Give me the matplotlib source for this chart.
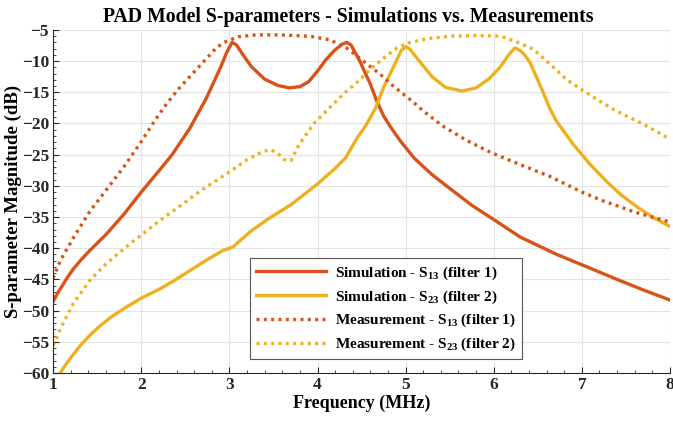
import matplotlib
matplotlib.use("Agg")
import matplotlib.pyplot as plt
from matplotlib.ticker import MultipleLocator

plt.rcParams['font.family'] = ['Liberation Serif', 'DejaVu Serif']
plt.rcParams['font.weight'] = 'bold'
plt.rcParams['mathtext.fontset'] = 'custom'
plt.rcParams['mathtext.rm'] = 'Liberation Serif:bold'
plt.rcParams['mathtext.it'] = 'Liberation Serif:bold'
plt.rcParams['mathtext.bf'] = 'Liberation Serif:bold'

# Simulation S13 (filter 1)
sim13_x = [1.0, 1.05, 1.1, 1.17, 1.23, 1.32, 1.42, 1.6, 1.8, 2.0, 2.2, 2.35, 2.55, 2.74, 2.9, 2.97,
           3.03, 3.08, 3.15, 3.25, 3.4, 3.55, 3.68, 3.8, 3.9, 4.0, 4.1, 4.2, 4.28, 4.33, 4.38, 4.48,
           4.6, 4.67, 4.75, 4.85, 4.94, 5.1, 5.3, 5.5, 5.75, 6.0, 6.3, 6.7, 7.06, 7.4, 7.7, 8.0]
sim13_y = [-48.5, -47.2, -46.1, -44.5, -43.3, -41.8, -40.3, -37.8, -34.6, -31.0, -27.6, -25.0, -20.8,
           -15.9, -11.0, -8.6, -7.0, -7.4, -8.9, -10.9, -12.9, -13.9, -14.3, -14.1, -13.3, -11.6,
           -9.7, -8.2, -7.3, -7.0, -7.4, -10.0, -13.7, -16.3, -18.8, -21.0, -22.8, -25.6, -28.2,
           -30.4, -33.1, -35.4, -38.2, -40.9, -43.0, -45.0, -46.7, -48.3]

# Simulation S23 (filter 2)
sim23_x = [1.08, 1.15, 1.23, 1.32, 1.42, 1.52, 1.65, 1.8, 2.0, 2.2, 2.36, 2.55, 2.74, 2.92, 3.0,
           3.05, 3.11, 3.25, 3.43, 3.7, 4.0, 4.2, 4.32, 4.45, 4.55, 4.66, 4.75, 4.86, 4.95, 5.0,
           5.05, 5.15, 5.3, 5.45, 5.64, 5.8, 5.95, 6.07, 6.17, 6.24, 6.3, 6.35, 6.41, 6.48, 6.56,
           6.63, 6.71, 6.9, 7.09, 7.28, 7.45, 7.63, 7.8, 8.0]
sim23_y = [-60.0, -58.5, -57.0, -55.4, -53.9, -52.6, -51.1, -49.7, -48.0, -46.6, -45.3, -43.6,
           -41.9, -40.4, -40.0, -39.7, -38.9, -37.2, -35.4, -33.0, -29.7, -27.2, -25.5, -22.3,
           -20.3, -17.5, -14.2, -11.0, -8.3, -7.7, -8.1, -9.9, -12.5, -14.2, -14.8, -14.3, -12.8,
           -11.0, -9.0, -7.9, -8.3, -9.0, -10.2, -12.4, -15.0, -17.4, -19.6, -23.3, -26.5, -29.3,
           -31.5, -33.4, -35.0, -36.5]

# Measurement S13 (filter 1)
meas13_x = [1.0, 1.08, 1.23, 1.42, 1.6, 1.8, 2.0, 2.15, 2.29, 2.42, 2.55, 2.74, 2.85, 2.94, 3.1,
            3.3, 3.58, 3.81, 3.95, 4.14, 4.33, 4.52, 4.71, 4.86, 5.08, 5.2, 5.42, 5.69, 5.96, 6.3,
            6.64, 7.0, 7.22, 7.6, 8.0]
meas13_y = [-44.8, -42.0, -38.3, -34.0, -30.7, -27.0, -22.9, -19.6, -16.8, -14.5, -12.5, -9.6, -7.9,
            -7.0, -6.1, -5.8, -5.8, -5.95, -6.1, -6.6, -7.9, -10.0, -12.1, -14.0, -16.5, -18.0,
            -20.4, -22.7, -24.6, -26.6, -28.5, -31.0, -32.3, -34.2, -35.8]

# Measurement S23 (filter 2)
meas23_x = [1.0, 1.08, 1.23, 1.42, 1.6, 1.87, 2.17, 2.51, 2.67, 3.04, 3.2, 3.38, 3.47, 3.55, 3.62,
            3.7, 3.79, 3.96, 4.1, 4.3, 4.45, 4.6, 4.71, 4.9, 5.03, 5.25, 5.52, 5.8, 6.07, 6.24,
            6.45, 6.64, 6.83, 7.0, 7.2, 7.39, 7.71, 8.0]
meas23_y = [-55.6, -53.0, -48.8, -45.1, -42.5, -39.3, -36.0, -32.5, -30.8, -27.4, -25.8, -24.5,
            -24.2, -24.8, -25.8, -25.9, -23.4, -20.0, -18.0, -15.2, -13.4, -11.3, -10.0, -7.9,
            -7.1, -6.4, -6.0, -5.9, -6.0, -6.8, -8.1, -10.5, -13.0, -14.6, -16.4, -18.0, -20.2,
            -22.5]

labels = ["Simulation - S$_{13}$ (filter 1)", "Simulation - S$_{23}$ (filter 2)",
          "Measurement - S$_{13}$ (filter 1)", "Measurement - S$_{23}$ (filter 2)"]

c1 = '#D95319'
c2 = '#EDB120'

fig = plt.figure(figsize=(6.73, 4.21), dpi=100)
ax = fig.add_axes([0.079, 0.114, 0.9165, 0.815])

lw = 2.4
dot = (0, (0.9, 1.3))
ax.plot(sim13_x, sim13_y, color=c1, lw=lw, label=labels[0])
ax.plot(sim23_x, sim23_y, color=c2, lw=lw, label=labels[1])
ax.plot(meas13_x, meas13_y, color=c1, lw=lw, ls=dot, label=labels[2])
ax.plot(meas23_x, meas23_y, color=c2, lw=lw, ls=dot, label=labels[3])

ax.set_xlim(1, 8)
ax.set_ylim(-60, -5)
ax.xaxis.set_major_locator(MultipleLocator(1))
ax.xaxis.set_minor_locator(MultipleLocator(0.2))
ax.yaxis.set_major_locator(MultipleLocator(5))
ax.yaxis.set_minor_locator(MultipleLocator(1))
ax.grid(True, which='major', color='#e3e3e3', lw=0.8)
ax.set_axisbelow(True)
ax.tick_params(which='both', direction='in', top=False, right=False, labelsize=12.5,
               colors='#262626', pad=3)
ax.tick_params(which='major', length=4)
ax.tick_params(which='minor', length=2)
for s in ['top', 'right']:
    ax.spines[s].set_visible(False)
for s in ['left', 'bottom']:
    ax.spines[s].set_color('#262626')
for t in ax.get_xticklabels() + ax.get_yticklabels():
    t.set_fontweight('bold')

ax.set_xlabel("Frequency (MHz)", fontsize=13, fontweight='bold', labelpad=1)
ax.set_ylabel("S-parameter Magnitude (dB)", fontsize=13.5, fontweight='bold', labelpad=0)
ax.set_title("PAD Model S-parameters - Simulations vs. Measurements", fontsize=14.2,
             fontweight='bold', pad=6, x=0.478)

leg = ax.legend(loc='lower left', bbox_to_anchor=(0.306, 0.018), fancybox=False, framealpha=1,
                edgecolor='#555555', prop={'family': 'Liberation Serif', 'weight': 'bold', 'size': 11},
                handlelength=4.6, labelspacing=0.42, borderpad=0.4, handletextpad=0.6)
leg.get_frame().set_linewidth(0.8)

fig.savefig("out.png", dpi=100)
